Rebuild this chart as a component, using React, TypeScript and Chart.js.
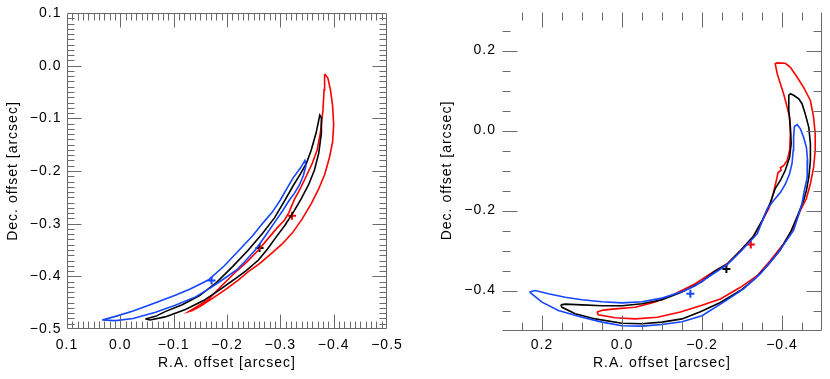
import React, { useEffect, useRef } from "react";
import { Chart, registerables } from "chart.js";

Chart.register(...registerables);

type Pt = [number, number];

// ---------- Left panel contours: [R.A. offset, Dec. offset] in arcsec ----------
const leftBlue: Pt[] = [
  [0.034, -0.483], [0.009, -0.476], [-0.024, -0.466], [-0.066, -0.45], [-0.103, -0.436],
  [-0.131, -0.424], [-0.165, -0.407], [-0.195, -0.38], [-0.223, -0.35], [-0.248, -0.323],
  [-0.268, -0.298], [-0.285, -0.278], [-0.3, -0.255], [-0.313, -0.232], [-0.324, -0.213],
  [-0.338, -0.194], [-0.346, -0.18], [-0.348, -0.19], [-0.343, -0.209], [-0.336, -0.226],
  [-0.326, -0.243], [-0.317, -0.255], [-0.304, -0.276], [-0.289, -0.298], [-0.272, -0.323],
  [-0.253, -0.35], [-0.236, -0.369], [-0.218, -0.388], [-0.191, -0.407], [-0.169, -0.422],
  [-0.141, -0.439], [-0.103, -0.455], [-0.066, -0.468], [-0.024, -0.48], [0.009, -0.484],
  [0.034, -0.483],
];

const leftBlack: Pt[] = [
  [-0.047, -0.481], [-0.066, -0.476], [-0.084, -0.467], [-0.116, -0.454], [-0.148, -0.437],
  [-0.18, -0.412], [-0.21, -0.382], [-0.24, -0.35], [-0.266, -0.319], [-0.289, -0.289],
  [-0.309, -0.255], [-0.324, -0.228], [-0.338, -0.205], [-0.349, -0.185], [-0.358, -0.16],
  [-0.367, -0.128], [-0.374, -0.094], [-0.377, -0.099], [-0.377, -0.128], [-0.372, -0.166],
  [-0.364, -0.198], [-0.353, -0.226], [-0.339, -0.253], [-0.324, -0.279], [-0.308, -0.304],
  [-0.291, -0.327], [-0.276, -0.348], [-0.259, -0.369], [-0.236, -0.389], [-0.212, -0.407],
  [-0.184, -0.427], [-0.156, -0.446], [-0.122, -0.463], [-0.084, -0.477], [-0.056, -0.483],
  [-0.047, -0.481],
];

const leftRed: Pt[] = [
  [-0.383, -0.016], [-0.389, -0.023], [-0.394, -0.046], [-0.398, -0.076], [-0.4, -0.112],
  [-0.398, -0.145], [-0.392, -0.175], [-0.383, -0.207], [-0.371, -0.236], [-0.358, -0.262],
  [-0.341, -0.291], [-0.323, -0.317], [-0.304, -0.338], [-0.283, -0.357], [-0.261, -0.376],
  [-0.24, -0.391], [-0.221, -0.407], [-0.199, -0.424], [-0.174, -0.441], [-0.15, -0.457],
  [-0.135, -0.465], [-0.128, -0.467], [-0.144, -0.457], [-0.165, -0.444], [-0.182, -0.426],
  [-0.201, -0.407], [-0.219, -0.389], [-0.238, -0.372], [-0.259, -0.35], [-0.278, -0.327],
  [-0.294, -0.308], [-0.308, -0.293], [-0.316, -0.279], [-0.326, -0.255], [-0.338, -0.232],
  [-0.349, -0.209], [-0.36, -0.185], [-0.369, -0.16], [-0.375, -0.128], [-0.38, -0.084],
  [-0.382, -0.046], [-0.383, -0.016],
];

// ---------- Right panel contours ----------
const rightBlue: Pt[] = [
  [0.231, -0.404], [0.217, -0.4], [0.184, -0.408], [0.142, -0.417], [0.1, -0.423],
  [0.05, -0.428], [0.0, -0.431], [-0.05, -0.428], [-0.1, -0.419], [-0.15, -0.403],
  [-0.183, -0.388], [-0.233, -0.355], [-0.263, -0.335], [-0.296, -0.303], [-0.338, -0.258],
  [-0.363, -0.196], [-0.379, -0.175], [-0.396, -0.155], [-0.408, -0.135], [-0.419, -0.108],
  [-0.425, -0.083], [-0.428, -0.05], [-0.429, -0.017], [-0.431, 0.01], [-0.438, 0.015],
  [-0.446, 0.004], [-0.454, -0.017], [-0.461, -0.042], [-0.464, -0.075], [-0.463, -0.117],
  [-0.456, -0.15], [-0.45, -0.183], [-0.429, -0.25], [-0.388, -0.308], [-0.346, -0.358],
  [-0.304, -0.396], [-0.254, -0.429], [-0.2, -0.463], [-0.15, -0.478], [-0.1, -0.485],
  [-0.05, -0.489], [0.0, -0.488], [0.05, -0.479], [0.1, -0.467], [0.159, -0.45],
  [0.2, -0.429], [0.231, -0.404],
];

const rightBlack: Pt[] = [
  [0.153, -0.436], [0.142, -0.434], [0.1, -0.436], [0.05, -0.438], [0.0, -0.438],
  [-0.05, -0.433], [-0.1, -0.423], [-0.15, -0.404], [-0.2, -0.378], [-0.233, -0.351],
  [-0.263, -0.334], [-0.296, -0.301], [-0.328, -0.266], [-0.351, -0.224], [-0.371, -0.18],
  [-0.383, -0.145], [-0.397, -0.123], [-0.408, -0.1], [-0.419, -0.067], [-0.423, -0.033],
  [-0.421, 0.008], [-0.417, 0.05], [-0.417, 0.088], [-0.421, 0.092], [-0.429, 0.088],
  [-0.442, 0.079], [-0.45, 0.067], [-0.458, 0.042], [-0.467, 0.008], [-0.471, -0.033],
  [-0.471, -0.075], [-0.467, -0.117], [-0.461, -0.15], [-0.454, -0.175], [-0.438, -0.215],
  [-0.421, -0.255], [-0.396, -0.298], [-0.366, -0.335], [-0.333, -0.37], [-0.296, -0.4],
  [-0.246, -0.43], [-0.196, -0.453], [-0.15, -0.471], [-0.1, -0.479], [-0.05, -0.483],
  [0.0, -0.482], [0.067, -0.471], [0.117, -0.458], [0.15, -0.442], [0.153, -0.436],
];

const rightRed: Pt[] = [
  [0.0625, -0.454], [0.047, -0.449], [0.017, -0.446], [-0.033, -0.442], [-0.083, -0.429],
  [-0.133, -0.408], [-0.183, -0.383], [-0.226, -0.355], [-0.263, -0.333], [-0.296, -0.3],
  [-0.328, -0.265], [-0.351, -0.225], [-0.368, -0.193], [-0.378, -0.158], [-0.387, -0.12],
  [-0.39, -0.105], [-0.398, -0.099], [-0.396, -0.093], [-0.404, -0.088], [-0.413, -0.075],
  [-0.419, -0.05], [-0.421, -0.008], [-0.419, 0.033], [-0.413, 0.058], [-0.404, 0.092],
  [-0.396, 0.117], [-0.388, 0.142], [-0.383, 0.167], [-0.388, 0.169], [-0.408, 0.168],
  [-0.421, 0.158], [-0.438, 0.133], [-0.454, 0.108], [-0.471, 0.075], [-0.479, 0.033],
  [-0.483, -0.008], [-0.483, -0.05], [-0.479, -0.092], [-0.471, -0.133], [-0.461, -0.17],
  [-0.446, -0.2], [-0.429, -0.242], [-0.404, -0.283], [-0.371, -0.325], [-0.338, -0.363],
  [-0.296, -0.392], [-0.246, -0.421], [-0.196, -0.438], [-0.146, -0.454], [-0.088, -0.467],
  [-0.033, -0.471], [0.017, -0.468], [0.059, -0.461], [0.0625, -0.454],
];

// ---------- Best-fit positions (crosses), same in both panels ----------
const redCross: Pt = [-0.322, -0.285];
const blackCross: Pt = [-0.261, -0.346];
const blueCross: Pt = [-0.171, -0.408];

// ---------- Axis settings ----------
const leftXRange: Pt = [-0.5, 0.1];
const leftYRange: Pt = [-0.5, 0.1];
const leftTickLabels = [0.1, 0.0, -0.1, -0.2, -0.3, -0.4, -0.5];
const rightXRange: Pt = [-0.5, 0.3];
const rightYRange: Pt = [-0.5, 0.3];
const rightTickLabels = [0.2, 0.0, -0.2, -0.4];

const xTitle = "R.A. offset [arcsec]";
const yTitle = "Dec. offset [arcsec]";

const RED = "#ff0000";
const BLACK = "#000000";
const BLUE = "rgb(20,70,255)";
const AXIS = "#6a6a6a";
const FONT = '14px "Liberation Sans", Arial, sans-serif';

type FrameCfg = {
  major: number;
  minor: number;
  labels: number[];
  majorLen: number;
  minorLen: number;
  fullBox: boolean;
  yTitleX: number;
  yLabelGap: number;
};

const fmt = (v: number) => {
  const s = Math.abs(v) < 1e-9 ? "0.0" : v.toFixed(1);
  return s.replace("-", "\u2212");
};

function framePlugin(cfg: FrameCfg) {
  return {
    id: "idlFrame",
    afterDraw(chart: any) {
      const ctx: CanvasRenderingContext2D = chart.ctx;
      const xs = chart.scales.x;
      const ys = chart.scales.y;
      const { left, right, top, bottom } = chart.chartArea;
      ctx.save();
      ctx.strokeStyle = AXIS;
      ctx.lineWidth = 1;
      const L = Math.round(left) + 0.5;
      const R = Math.round(right) - 0.5;
      const T = Math.round(top) + 0.5;
      const B = Math.round(bottom) - 0.5;
      ctx.beginPath();
      ctx.moveTo(L, B);
      ctx.lineTo(R, B);
      ctx.lineTo(R, cfg.fullBox ? T : T + 1);
      if (cfg.fullBox) {
        ctx.lineTo(L, T);
        ctx.lineTo(L, B);
      }
      ctx.stroke();

      const isMajor = (v: number) => Math.abs(v / cfg.major - Math.round(v / cfg.major)) < 1e-6;
      const ticks = (min: number, max: number) => {
        const out: number[] = [];
        const i0 = Math.ceil(min / cfg.minor - 1e-6);
        const i1 = Math.floor(max / cfg.minor + 1e-6);
        for (let i = i0; i <= i1; i++) {
          const v = +(i * cfg.minor).toFixed(6);
          if (Math.abs(v - min) < 1e-6 || Math.abs(v - max) < 1e-6) continue;
          out.push(v);
        }
        return out;
      };
      const tOff = cfg.fullBox ? 0 : 1;
      ctx.beginPath();
      for (const v of ticks(xs.min, xs.max)) {
        const px = Math.round(xs.getPixelForValue(v)) + 0.5;
        const len = isMajor(v) ? cfg.majorLen : cfg.minorLen;
        ctx.moveTo(px, B);
        ctx.lineTo(px, B - len);
        ctx.moveTo(px, T + tOff);
        ctx.lineTo(px, T + tOff + len);
      }
      for (const v of ticks(ys.min, ys.max)) {
        const py = Math.round(ys.getPixelForValue(v)) + 0.5;
        const len = isMajor(v) ? cfg.majorLen : cfg.minorLen;
        ctx.moveTo(L, py);
        ctx.lineTo(L + len, py);
        ctx.moveTo(R, py);
        ctx.lineTo(R - len, py);
      }
      ctx.stroke();

      ctx.fillStyle = "#000";
      ctx.font = FONT;
      try {
        (ctx as any).letterSpacing = "1px";
      } catch (e) {}
      ctx.textBaseline = "middle";
      ctx.textAlign = "center";
      for (const v of cfg.labels) {
        if (v < xs.min - 1e-9 || v > xs.max + 1e-9) continue;
        ctx.fillText(fmt(v), xs.getPixelForValue(v), 345);
      }
      ctx.textAlign = "right";
      for (const v of cfg.labels) {
        if (v < ys.min - 1e-9 || v > ys.max + 1e-9) continue;
        ctx.fillText(fmt(v), left - cfg.yLabelGap, ys.getPixelForValue(v));
      }
      ctx.textAlign = "center";
      ctx.fillText(xTitle, (left + right) / 2, 363);
      ctx.translate(cfg.yTitleX, (top + bottom) / 2);
      ctx.rotate(-Math.PI / 2);
      ctx.fillText(yTitle, 0, 0);
      ctx.restore();
    },
  };
}

const line = (pts: Pt[], color: string) => ({
  data: pts.map(([x, y]) => ({ x, y })),
  showLine: true,
  borderColor: color,
  backgroundColor: color,
  borderWidth: 1.6,
  pointRadius: 0,
  fill: false,
  tension: 0,
});

const cross = (p: Pt, color: string) => ({
  data: [{ x: p[0], y: p[1] }],
  showLine: false,
  pointStyle: "cross",
  pointRadius: 4,
  borderWidth: 2,
  borderColor: color,
  backgroundColor: color,
});

type PanelProps = {
  xRange: Pt;
  yRange: Pt;
  contours: [Pt[], string][];
  padding: { left: number; right: number; top: number; bottom: number };
  frame: FrameCfg;
  style: React.CSSProperties;
};

function Panel({ xRange, yRange, contours, padding, frame, style }: PanelProps) {
  const ref = useRef<HTMLCanvasElement | null>(null);
  useEffect(() => {
    if (!ref.current) return;
    const chart = new Chart(ref.current, {
      type: "scatter",
      data: {
        datasets: [
          ...contours.map(([pts, c]) => line(pts, c)),
          cross(blueCross, BLUE),
          cross(blackCross, BLACK),
          cross(redCross, RED),
        ] as any,
      },
      options: {
        animation: false,
        responsive: false,
        maintainAspectRatio: false,
        events: [],
        layout: { padding },
        plugins: { legend: { display: false }, tooltip: { enabled: false } },
        scales: {
          x: { type: "linear", min: xRange[0], max: xRange[1], reverse: true, display: false },
          y: { type: "linear", min: yRange[0], max: yRange[1], display: false },
        },
      } as any,
      plugins: [framePlugin(frame)],
    });
    return () => chart.destroy();
  }, []);
  return <canvas ref={ref} width={415} height={379} style={{ position: "absolute", ...style }} />;
}

export default function App() {
  return (
    <div style={{ position: "absolute", left: 0, top: 0, width: 830, height: 379, background: "#fff" }}>
      <Panel
        xRange={leftXRange}
        yRange={leftYRange}
        contours={[
          [leftBlue, BLUE],
          [leftBlack, BLACK],
          [leftRed, RED],
        ]}
        padding={{ left: 67, right: 28, top: 13, bottom: 50 }}
        frame={{
          major: 0.1,
          minor: 0.01,
          labels: leftTickLabels,
          majorLen: 14,
          minorLen: 7,
          fullBox: true,
          yTitleX: 13,
          yLabelGap: 5.5,
        }}
        style={{ left: 0, top: 0 }}
      />
      <Panel
        xRange={rightXRange}
        yRange={rightYRange}
        contours={[
          [rightBlue, BLUE],
          [rightBlack, BLACK],
          [rightRed, RED],
        ]}
        padding={{ left: 87, right: 8, top: 10.5, bottom: 48.5 }}
        frame={{
          major: 0.2,
          minor: 0.05,
          labels: rightTickLabels,
          majorLen: 15,
          minorLen: 8,
          fullBox: false,
          yTitleX: 32,
          yLabelGap: 6,
        }}
        style={{ left: 415, top: 0 }}
      />
    </div>
  );
}
